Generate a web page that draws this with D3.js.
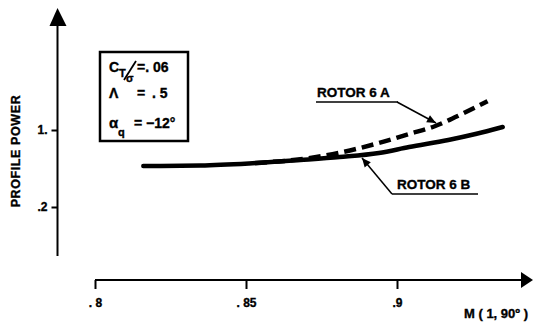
<!DOCTYPE html>
<html>
<head>
<meta charset="utf-8">
<script src="https://cdn.jsdelivr.net/npm/d3@7"></script>
<style>
  html, body { margin: 0; padding: 0; background: #fff; }
  svg { display: block; }
  text { font-family: "Liberation Sans", Arial, sans-serif; font-weight: bold; fill: #000; stroke: #000; stroke-width: 0.35px; }
</style>
</head>
<body>
<svg id="chart" width="534" height="323"></svg>
<script>
// Mach number (advancing tip, 1, 90°) and normalized profile power
const machA = [0.853, 0.868, 0.881, 0.894, 0.904, 0.9125, 0.922, 0.930];
const powerA = [0.657, 0.696, 0.764, 0.865, 0.958, 1.039, 1.174, 1.299];

const machB = [0.816, 0.835, 0.851, 0.868, 0.881, 0.894, 0.904, 0.917, 0.926, 0.935];
const powerB = [0.626, 0.631, 0.652, 0.688, 0.719, 0.761, 0.823, 0.896, 0.958, 1.031];

const xTickValues = [0.8, 0.85, 0.9];
const xTickLabels = [". 8", ". 85", ".9"];
const yTickValues = [1, 0.2];
const yTickLabels = ["1.", ".2"];

const svg = d3.select("#chart");

const x = d3.scaleLinear().domain([0.8, 0.9]).range([95, 397]);
const y = d3.scaleLinear().domain([0.2, 1]).range([207, 130]);

const axisX = 57.5;   // y axis position
const axisY = 280;    // x axis position

// ---- Y axis with arrow
svg.append("line")
  .attr("x1", axisX).attr("x2", axisX)
  .attr("y1", 24).attr("y2", 256)
  .attr("stroke", "#000").attr("stroke-width", 2);
svg.append("path")
  .attr("d", `M${axisX},8 L${axisX + 9},26 L${axisX - 8},26 Z`)
  .attr("fill", "#000");

const yAxis = d3.axisLeft(y)
  .tickValues(yTickValues)
  .tickSize(6)
  .tickFormat((d, i) => yTickLabels[i]);
const gy = svg.append("g")
  .attr("transform", `translate(${axisX},0)`)
  .call(yAxis);
gy.select(".domain").remove();
gy.selectAll(".tick line").attr("stroke", "#000").attr("stroke-width", 2);
gy.selectAll(".tick text")
  .attr("x", -10)
  .attr("fill", "#000")
  .style("font-size", "12px")
  .style("font-family", "'Liberation Sans', Arial, sans-serif")
  .style("font-weight", "bold");

svg.append("text")
  .attr("transform", "translate(20,151) rotate(-90)")
  .attr("text-anchor", "middle")
  .style("font-size", "12.5px")
  .style("letter-spacing", "0.6px")
  .text("PROFILE POWER");

// ---- X axis with arrow
svg.append("line")
  .attr("x1", x(0.8)).attr("x2", 524)
  .attr("y1", axisY).attr("y2", axisY)
  .attr("stroke", "#000").attr("stroke-width", 2);
svg.append("path")
  .attr("d", `M533,${axisY} L521,${axisY - 8} L521,${axisY + 8} Z`)
  .attr("fill", "#000");

const xAxis = d3.axisBottom(x)
  .tickValues(xTickValues)
  .tickSize(9)
  .tickFormat((d, i) => xTickLabels[i]);
const gx = svg.append("g")
  .attr("transform", `translate(0,${axisY})`)
  .call(xAxis);
gx.select(".domain").remove();
gx.selectAll(".tick line").attr("stroke", "#000").attr("stroke-width", 2);
gx.selectAll(".tick text")
  .attr("y", 27)
  .attr("dy", null)
  .attr("fill", "#000")
  .style("font-size", "12px")
  .style("font-family", "'Liberation Sans', Arial, sans-serif")
  .style("font-weight", "bold");

svg.append("text")
  .attr("x", 496).attr("y", 318)
  .attr("text-anchor", "middle")
  .style("font-size", "13px")
  .text("M ( 1, 90º )");

// ---- curves
const line = d3.line()
  .x(d => x(d[0]))
  .y(d => y(d[1]))
  .curve(d3.curveMonotoneX);

svg.append("path")
  .datum(d3.zip(machB, powerB))
  .attr("d", line)
  .attr("fill", "none")
  .attr("stroke", "#000")
  .attr("stroke-width", 4.5)
  .attr("stroke-linecap", "round");

svg.append("path")
  .datum(d3.zip(machA, powerA))
  .attr("d", line)
  .attr("fill", "none")
  .attr("stroke", "#000")
  .attr("stroke-width", 4.5)
  .attr("stroke-dasharray", "12,6");

// ---- parameter box
svg.append("rect")
  .attr("x", 100).attr("y", 52)
  .attr("width", 88).attr("height", 89)
  .attr("fill", "none")
  .attr("stroke", "#000").attr("stroke-width", 2.5);

const box = svg.append("g").style("font-size", "14px");
box.append("text").attr("x", 109).attr("y", 72).text("C");
box.append("text").attr("x", 119).attr("y", 77).style("font-size", "11px").text("T");
box.append("text").attr("x", 126).attr("y", 82).style("font-size", "11px").text("σ");
box.append("line")
  .attr("x1", 124).attr("y1", 80).attr("x2", 136).attr("y2", 61)
  .attr("stroke", "#000").attr("stroke-width", 1.8);
box.append("text").attr("x", 137).attr("y", 72).text("=. 06");

box.append("text").attr("x", 109).attr("y", 98).text("Λ");
box.append("text").attr("x", 137).attr("y", 98).text("=");
box.append("text").attr("x", 152).attr("y", 98).text(". 5");

box.append("text").attr("x", 109).attr("y", 128).style("font-size", "15px").text("α");
box.append("text").attr("x", 118).attr("y", 136).style("font-size", "11px").text("q");
box.append("text").attr("x", 134).attr("y", 128).text("= −12°");

// ---- callouts
function callout(label, tx, ty, ux1, ux2, ex, ey, sx) {
  svg.append("text").attr("x", tx).attr("y", ty)
    .style("font-size", "13.5px").text(label);
  svg.append("line")
    .attr("x1", ux1).attr("x2", ux2)
    .attr("y1", ty + 5).attr("y2", ty + 5)
    .attr("stroke", "#000").attr("stroke-width", 1.5);
  svg.append("line")
    .attr("x1", sx).attr("y1", ty + 5)
    .attr("x2", ex).attr("y2", ey)
    .attr("stroke", "#000").attr("stroke-width", 1.5);
  const ang = Math.atan2(ey - (ty + 5), ex - sx);
  const L = 9, W = 4;
  const bx = ex - L * Math.cos(ang), by = ey - L * Math.sin(ang);
  const px = -Math.sin(ang) * W, py = Math.cos(ang) * W;
  svg.append("path")
    .attr("d", `M${ex},${ey} L${bx + px},${by + py} L${bx - px},${by - py} Z`)
    .attr("fill", "#000");
}

callout("ROTOR 6 A", 317, 97, 316, 398, 436, 123, 397);
callout("ROTOR 6 B", 397, 189, 392, 478, 362, 158, 392);
</script>
</body>
</html>
